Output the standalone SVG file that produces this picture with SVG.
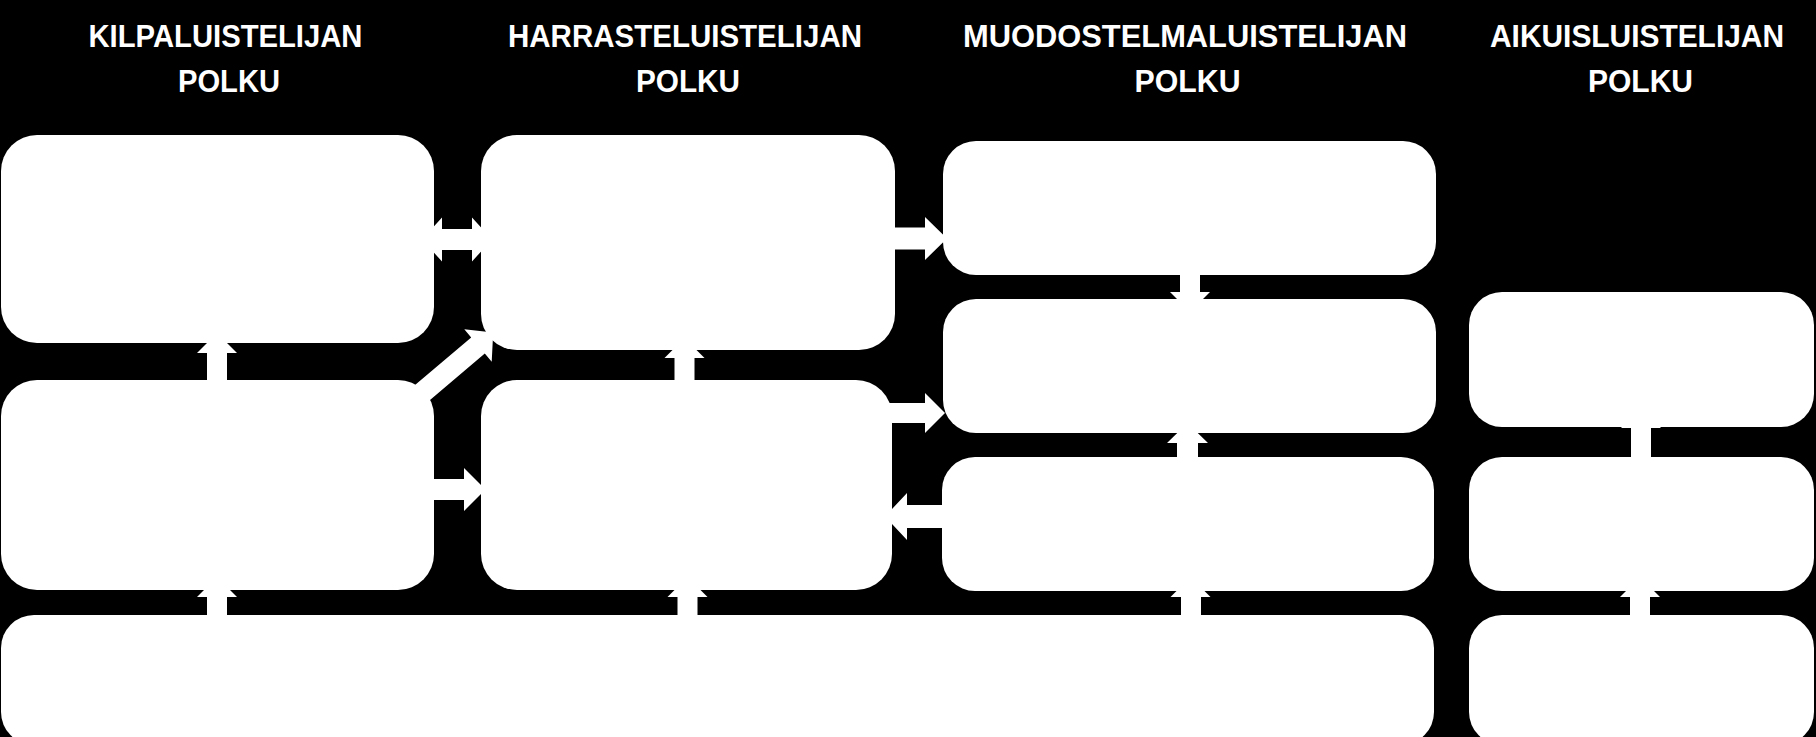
<svg xmlns="http://www.w3.org/2000/svg" width="1816" height="737" viewBox="0 0 1816 737">
  <style>
    .bg { fill: #000000; }
    .node { fill: #ffffff; }
    .arr { fill: #ffffff; }
    .title { font-family: "Liberation Sans", Arial, sans-serif; font-weight: bold; font-size: 31px; fill: #ffffff; text-anchor: middle; }
  </style>
  <rect class="bg" x="0" y="0" width="1816" height="737"/>

  <g id="headers">
    <text class="title" x="225.5" y="46.5" textLength="274" lengthAdjust="spacingAndGlyphs">KILPALUISTELIJAN</text>
    <text class="title" x="229" y="91.5" textLength="102" lengthAdjust="spacingAndGlyphs">POLKU</text>
    <text class="title" x="685" y="46.5" textLength="354" lengthAdjust="spacingAndGlyphs">HARRASTELUISTELIJAN</text>
    <text class="title" x="688" y="91.5" textLength="104" lengthAdjust="spacingAndGlyphs">POLKU</text>
    <text class="title" x="1185" y="46.5" textLength="444" lengthAdjust="spacingAndGlyphs">MUODOSTELMALUISTELIJAN</text>
    <text class="title" x="1187.5" y="91.5" textLength="106" lengthAdjust="spacingAndGlyphs">POLKU</text>
    <text class="title" x="1637" y="46.5" textLength="294" lengthAdjust="spacingAndGlyphs">AIKUISLUISTELIJAN</text>
    <text class="title" x="1640.5" y="91.5" textLength="105" lengthAdjust="spacingAndGlyphs">POLKU</text>
  </g>

  <g id="connectors">
    <!-- A <-> B double arrow -->
    <polygon class="arr" points="422,239.5 442,217.5 442,229 472,229 472,217.5 492,239.5 472,261.5 472,250 442,250 442,261.5"/>
    <!-- B -> C -->
    <polygon class="arr" points="880,227.5 925,227.5 925,217 947,238.5 925,260 925,249.5 880,249.5"/>
    <!-- J -> A (up) -->
    <polygon class="arr" points="207,400 207,353 197,353 217,333 237,353 227,353 227,400"/>
    <!-- J -> B (diagonal) -->
    <polygon class="arr" points="402.6,395.6 471.2,337.4 464.3,329.3 493.2,332.6 491.7,361.7 484.8,353.6 416.2,411.8"/>
    <!-- K -> B (up) -->
    <polygon class="arr" points="674.5,400 674.5,358 664.5,358 684.5,338 704.5,358 694.5,358 694.5,400"/>
    <!-- J -> K (right) -->
    <polygon class="arr" points="420,479 464,479 464,468 485.5,489.5 464,511 464,500 420,500"/>
    <!-- K -> D (right) -->
    <polygon class="arr" points="870,403 925,403 925,393 945,413 925,433 925,423 870,423"/>
    <!-- E -> K (left) -->
    <polygon class="arr" points="955,505 907,505 907,493 885,516.5 907,540 907,528 955,528"/>
    <!-- C -> D (down) -->
    <polygon class="arr" points="1180,265 1180,292 1170,292 1190,312 1210,292 1200,292 1200,265"/>
    <!-- E -> D (up) -->
    <polygon class="arr" points="1177,470 1177,443 1167,443 1187.5,423 1208,443 1198,443 1198,470"/>
    <!-- F -> J (up) -->
    <polygon class="arr" points="207,630 207,597 197,597 217,577 237,597 227,597 227,630"/>
    <!-- F -> K (up) -->
    <polygon class="arr" points="677.5,630 677.5,597 667.5,597 687.5,577 707.5,597 697.5,597 697.5,630"/>
    <!-- F -> E (up) -->
    <polygon class="arr" points="1181,630 1181,597 1170.5,597 1190.5,577 1210.5,597 1201,597 1201,630"/>
    <!-- H -> G (up) -->
    <polygon class="arr" points="1631,470 1631,428 1621,428 1641,408 1661,428 1651,428 1651,470"/>
    <!-- I -> H (up) -->
    <polygon class="arr" points="1630,630 1630,597 1620,597 1640,577 1660,597 1650,597 1650,630"/>
  </g>

  <g id="node-kilpa-1"><rect class="node" x="1" y="135" width="433" height="208" rx="36" ry="36"/></g>
  <g id="node-harraste-1"><rect class="node" x="481" y="135" width="414" height="215" rx="36" ry="36"/></g>
  <g id="node-muodostelma-1"><rect class="node" x="943" y="141" width="493" height="134" rx="33" ry="33"/></g>
  <g id="node-muodostelma-2"><rect class="node" x="943" y="299" width="493" height="134" rx="33" ry="33"/></g>
  <g id="node-muodostelma-3"><rect class="node" x="942" y="457" width="492" height="134" rx="33" ry="33"/></g>
  <g id="node-aikuis-1"><rect class="node" x="1469" y="292" width="345" height="135" rx="33" ry="33"/></g>
  <g id="node-aikuis-2"><rect class="node" x="1469" y="457" width="345" height="134" rx="33" ry="33"/></g>
  <g id="node-kilpa-2"><rect class="node" x="1" y="380" width="433" height="210" rx="36" ry="36"/></g>
  <g id="node-harraste-2"><rect class="node" x="481" y="380" width="411" height="210" rx="36" ry="36"/></g>
  <g id="node-base"><rect class="node" x="1" y="615" width="1433" height="130" rx="33" ry="33"/></g>
  <g id="node-aikuis-3"><rect class="node" x="1469" y="615" width="345" height="130" rx="33" ry="33"/></g>
</svg>
